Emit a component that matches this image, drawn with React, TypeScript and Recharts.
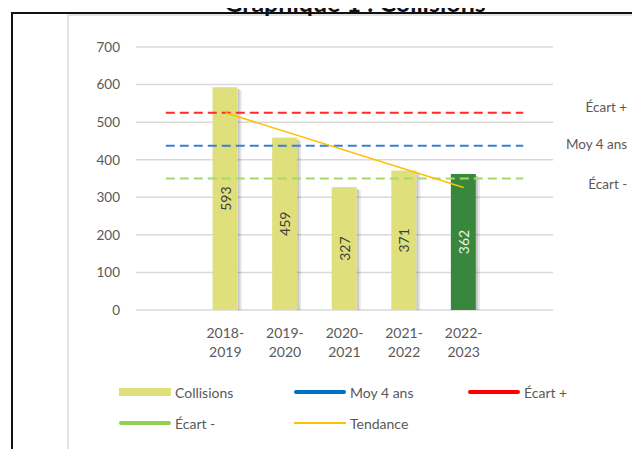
import React from "react";
import {
  ComposedChart,
  Bar,
  Line,
  XAxis,
  YAxis,
  CartesianGrid,
} from "recharts";

// empty first/last categories give the reference lines room on both sides
const categories = ["", "2018-2019", "2019-2020", "2020-2021", "2021-2022", "2022-2023", ""];
const collisions = [null, 593, 459, 327, 371, 362, null];
const highlighted = [false, false, false, false, false, true, false];
const moy4ans = [437.5, 437.5, 437.5, 437.5, 437.5, 437.5, 437.5];
const ecartPlus = [525, 525, 525, 525, 525, 525, 525];
const ecartMoins = [350, 350, 350, 350, 350, 350, 350];
const tendance = [null, 525, null, null, null, 326, null];
const yTicks = [0, 100, 200, 300, 400, 500, 600, 700];

const data = categories.map((cat, i) => ({
  cat,
  collisions: collisions[i],
  highlight: highlighted[i],
  moy: moy4ans[i],
  plus: ecartPlus[i],
  moins: ecartMoins[i],
  tendance: tendance[i],
}));

const FONT = "Lato, 'Noto Sans', sans-serif";
const TEXT = "#595959";
const BAR = "#dfdf7b";
const BAR_LAST = "#38873d";

// bar with a soft right-hand shadow and its value written vertically inside
const ShadowBar = (props: any) => {
  const { x, y, width, height, payload } = props;
  if (!height || height <= 0 || !payload || payload.collisions == null) return null;
  const hi = !!payload.highlight;
  const cx = x + width / 2;
  const cy = y + height / 2;
  return (
    <g>
      <rect x={x + width} y={y + 2} width={2} height={height - 2} fill="#000" opacity={0.22} />
      <rect x={x + width + 2} y={y + 3} width={2} height={height - 3} fill="#000" opacity={0.1} />
      <rect x={x} y={y} width={width} height={height} fill={hi ? BAR_LAST : BAR} />
      <text
        x={cx}
        y={cy}
        transform={`rotate(-90 ${cx} ${cy})`}
        textAnchor="middle"
        dominantBaseline="central"
        fontFamily={FONT}
        fontSize={14}
        fill={hi ? "#eef4ee" : "#404040"}
      >
        {payload.collisions}
      </text>
    </g>
  );
};

const sideLabel = (text: string, dy: number) => (props: any) => {
  const { x, y, index } = props;
  if (index !== categories.length - 1) return null;
  return (
    <text
      x={x + 104}
      y={y + dy}
      textAnchor="end"
      dominantBaseline="central"
      fontFamily={FONT}
      fontSize={13.5}
      fill={TEXT}
    >
      {text}
    </text>
  );
};

const CatTick = (props: any) => {
  const { x, y, payload } = props;
  if (!payload.value) return null;
  const [a, b] = payload.value.split("-");
  return (
    <text x={x} y={y} textAnchor="middle" fontFamily={FONT} fontSize={14} fill={TEXT}>
      <tspan x={x} dy={20}>{a}-</tspan>
      <tspan x={x} dy={19}>{b}</tspan>
    </text>
  );
};

const legendItems = [
  { label: "Collisions", left: 119, top: 392, kind: "bar", color: BAR },
  { label: "Moy 4 ans", left: 294, top: 392, kind: "thick", color: "#0070c0" },
  { label: "Écart +", left: 468, top: 392, kind: "thick", color: "#ff0000" },
  { label: "Écart -", left: 119, top: 423, kind: "thick", color: "#92d050" },
  { label: "Tendance", left: 294, top: 423, kind: "thin", color: "#ffc000" },
];

const ChartLegend = () => (
  <div style={{ position: "absolute", left: 0, top: 0, fontFamily: FONT }}>
    {legendItems.map((it) => (
      <div
        key={it.label}
        style={{ position: "absolute", left: it.left, top: it.top, display: "flex", alignItems: "center", height: 0 }}
      >
        <div
          style={{
            width: 52,
            height: it.kind === "bar" ? 8 : it.kind === "thick" ? 4 : 1.5,
            background: it.color,
            borderRadius: it.kind === "thick" ? 2 : 0,
            marginRight: 4,
            flexShrink: 0,
          }}
        />
        <span style={{ fontSize: 14, color: TEXT, whiteSpace: "nowrap" }}>{it.label}</span>
      </div>
    ))}
  </div>
);

export default function App() {
  return (
    <div style={{ position: "relative", margin: -8, width: 640, height: 457, overflow: "hidden", background: "#fff" }}>
      <svg width={640} height={457} style={{ position: "absolute", left: 0, top: 0 }}>
        <rect x={68} y={15} width={620} height={441} fill="none" stroke="#d9d9d9" strokeWidth={1.5} />
        <path d="M12 470 L12 13 L660 13" fill="none" stroke="#111" strokeWidth={2} />
        <text x={355} y={12} textAnchor="middle" fontFamily={FONT} fontWeight={700} fontSize={25} fill="#111">
          Graphique 1 : Collisions
        </text>
      </svg>
      <div style={{ position: "absolute", left: 0, top: 0 }}>
        <ComposedChart
          width={640}
          height={457}
          data={data}
          margin={{ top: 47, right: 87, left: 0, bottom: 97 }}
        >
          <CartesianGrid vertical={false} stroke="#d9d9d9" strokeWidth={1.5} />
          <XAxis dataKey="cat" interval={0} tickLine={false} axisLine={false} height={50} tick={<CatTick />} />
          <YAxis
            domain={[0, 700]}
            ticks={yTicks}
            width={136}
            tickLine={false}
            axisLine={false}
            tickMargin={10}
            tick={{ fontFamily: FONT, fontSize: 13.5, fill: TEXT }}
          />
          <Bar dataKey="collisions" barSize={25} shape={<ShadowBar />} isAnimationActive={false} />
          <Line
            dataKey="plus"
            stroke="#ff2a2a"
            strokeWidth={2}
            strokeDasharray="9 5"
            dot={false}
            isAnimationActive={false}
            label={sideLabel("Écart +", -6)}
          />
          <Line
            dataKey="moy"
            stroke="#3a7fd5"
            strokeWidth={2}
            strokeDasharray="9 5"
            dot={false}
            isAnimationActive={false}
            label={sideLabel("Moy 4 ans", -2)}
          />
          <Line
            dataKey="moins"
            stroke="#a6d96a"
            strokeWidth={2}
            strokeDasharray="9 5"
            dot={false}
            isAnimationActive={false}
            label={sideLabel("Écart -", 5)}
          />
          <Line
            dataKey="tendance"
            stroke="#ffc000"
            strokeWidth={1.5}
            connectNulls
            dot={false}
            isAnimationActive={false}
          />
        </ComposedChart>
      </div>
      <ChartLegend />
    </div>
  );
}
